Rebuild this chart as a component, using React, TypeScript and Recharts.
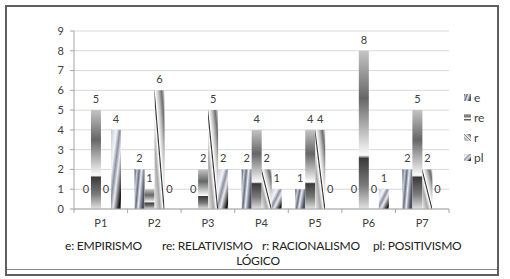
import React from 'react'
import { BarChart, Bar, XAxis, YAxis, CartesianGrid, LabelList } from 'recharts'

const categories = ['P1', 'P2', 'P3', 'P4', 'P5', 'P6', 'P7']
const eValues = [0, 2, 0, 2, 1, 0, 2]
const reValues = [5, 1, 2, 4, 4, 8, 5]
const rValues = [0, 6, 5, 2, 4, 0, 2]
const plValues = [4, 0, 2, 1, 0, 1, 0]
const yTicks = [0, 1, 2, 3, 4, 5, 6, 7, 8, 9]
const seriesNames = ['e', 're', 'r', 'pl']
const footLabels = ['e: EMPIRISMO', 're: RELATIVISMO', 'r: RACIONALISMO', 'pl: POSITIVISMO']
const footLeft = [65, 162, 262, 373]

const data = categories.map((c, i) => ({ cat: c, e: eValues[i], re: reValues[i], r: rValues[i], pl: plValues[i] }))

const FONT = 'Lato, "Open Sans", sans-serif'
const C = { grid: '#d9d9d9', axis: '#a6a6a6', text: '#404040', frame: '#5f5f5f' }
const fills: Record<string, string> = { e: 'url(#gE)', re: 'url(#gRe)', r: 'url(#gR)', pl: 'url(#gPl)' }

// gradientes "textura" tipo Excel
const Defs = () => (
  <defs>
    <linearGradient id="gE" x1="0" y1="0" x2="1" y2="0.35">
      <stop offset="0" stopColor="#3e4656" />
      <stop offset="0.22" stopColor="#c9cdd9" />
      <stop offset="0.42" stopColor="#6a7080" />
      <stop offset="0.62" stopColor="#eceef3" />
      <stop offset="0.82" stopColor="#8a90a0" />
      <stop offset="1" stopColor="#4a5262" />
    </linearGradient>
    <linearGradient id="gRe" x1="0" y1="0" x2="0" y2="1">
      <stop offset="0" stopColor="#c4c4c4" />
      <stop offset="0.3" stopColor="#666666" />
      <stop offset="0.66" stopColor="#fbfbfb" />
      <stop offset="0.68" stopColor="#3a3a3a" />
      <stop offset="0.85" stopColor="#7a7a7a" />
      <stop offset="1" stopColor="#e2e2e2" />
    </linearGradient>
    <linearGradient id="gR" x1="0" y1="1" x2="1" y2="0">
      <stop offset="0" stopColor="#eeeeee" />
      <stop offset="0.28" stopColor="#a8a8a8" />
      <stop offset="0.42" stopColor="#ffffff" />
      <stop offset="0.48" stopColor="#2a2a2a" />
      <stop offset="0.53" stopColor="#ffffff" />
      <stop offset="0.7" stopColor="#bdbdbd" />
      <stop offset="0.85" stopColor="#6e6e6e" />
      <stop offset="1" stopColor="#e6e6e6" />
    </linearGradient>
    <linearGradient id="gPl" x1="0" y1="0" x2="1" y2="1">
      <stop offset="0" stopColor="#c6cad6" />
      <stop offset="0.28" stopColor="#f4f4f8" />
      <stop offset="0.45" stopColor="#8a90a0" />
      <stop offset="0.6" stopColor="#eaeaf0" />
      <stop offset="0.8" stopColor="#5a5a5a" />
      <stop offset="0.9" stopColor="#111111" />
      <stop offset="1" stopColor="#8a8a8a" />
    </linearGradient>
  </defs>
)

// etiqueta de valor; los ceros van un poco más arriba, como en el original
const ValueLabel = (p: any) => {
  const { x, y, width, value } = p
  const cy = Number(value) === 0 ? y - 20 : y - 11
  return (
    <text x={x + width / 2} y={cy} dy="0.35em" textAnchor="middle" fontSize={11} fontFamily={FONT} fill={C.text}>
      {value}
    </text>
  )
}

// tick de categoría: texto centrado y marcas en los límites de la banda
const CatTick = (p: any) => {
  const { x, y, payload, index, visibleTicksCount } = p
  const axisW = typeof p.width === 'number' && p.width > 0 ? p.width : 375
  const half = axisW / visibleTicksCount / 2
  return (
    <g>
      <line x1={x - half} x2={x - half} y1={y} y2={y + 4} stroke={C.axis} />
      {index === visibleTicksCount - 1 && <line x1={x + half} x2={x + half} y1={y} y2={y + 4} stroke={C.axis} />}
      <text x={x} y={y + 14} dy="0.35em" textAnchor="middle" fontSize={11} fontFamily={FONT} fill={C.text}>
        {payload.value}
      </text>
    </g>
  )
}

export default function App() {
  return (
    <div style={{ position: 'relative', width: 510, height: 279, background: '#fff', fontFamily: FONT }}>
      <style>{'body{margin:0}'}</style>
      <div style={{ position: 'absolute', left: 5, top: 5, width: 490, height: 267, border: `2px solid ${C.frame}` }} />
      <div style={{ position: 'absolute', left: 7, top: 269, width: 490, height: 0, borderTop: '1px solid #8a8a8a' }} />
      <div style={{ position: 'absolute', left: 0, top: 0 }}>
        <BarChart width={510} height={279} data={data} margin={{ top: 31, right: 61, left: 44, bottom: 40 }}
          barCategoryGap="13%" barGap={0}>
          <Defs />
          <CartesianGrid vertical={false} stroke={C.grid} />
          <XAxis dataKey="cat" stroke={C.axis} tickLine={false} tickSize={0} tickMargin={0} height={30} tick={<CatTick />} interval={0} />
          <YAxis width={30} domain={[0, 9]} ticks={yTicks} interval={0} stroke={C.axis} tickSize={4} tickMargin={6}
            tick={{ fontSize: 11, fill: C.text, fontFamily: FONT }} />
          {seriesNames.map(k => (
            <Bar key={k} dataKey={k} fill={fills[k]} minPointSize={0.01} isAnimationActive={false}>
              <LabelList dataKey={k} content={<ValueLabel />} />
            </Bar>
          ))}
        </BarChart>
      </div>
      {/* leyenda derecha */}
      <div style={{ position: 'absolute', left: 464, top: 90, display: 'flex', flexDirection: 'column', gap: 5 }}>
        {seriesNames.map(k => (
          <div key={k} style={{ display: 'flex', alignItems: 'center', gap: 3, height: 15, fontSize: 12, color: C.text }}>
            <svg width={7} height={7}>
              <Defs />
              <rect width={7} height={7} fill={fills[k]} />
            </svg>
            <span>{k}</span>
          </div>
        ))}
      </div>
      {/* nota inferior */}
      {footLabels.map((t, i) => (
        <div key={t} style={{ position: 'absolute', left: footLeft[i], top: 238, fontSize: 12, letterSpacing: -0.2, color: '#222', lineHeight: '16px', whiteSpace: 'nowrap' }}>
          {t}
        </div>
      ))}
      <div style={{ position: 'absolute', left: 208, top: 253, width: 100, textAlign: 'center', fontSize: 12, letterSpacing: -0.2, color: '#222', lineHeight: '16px' }}>
        LÓGICO
      </div>
    </div>
  )
}
